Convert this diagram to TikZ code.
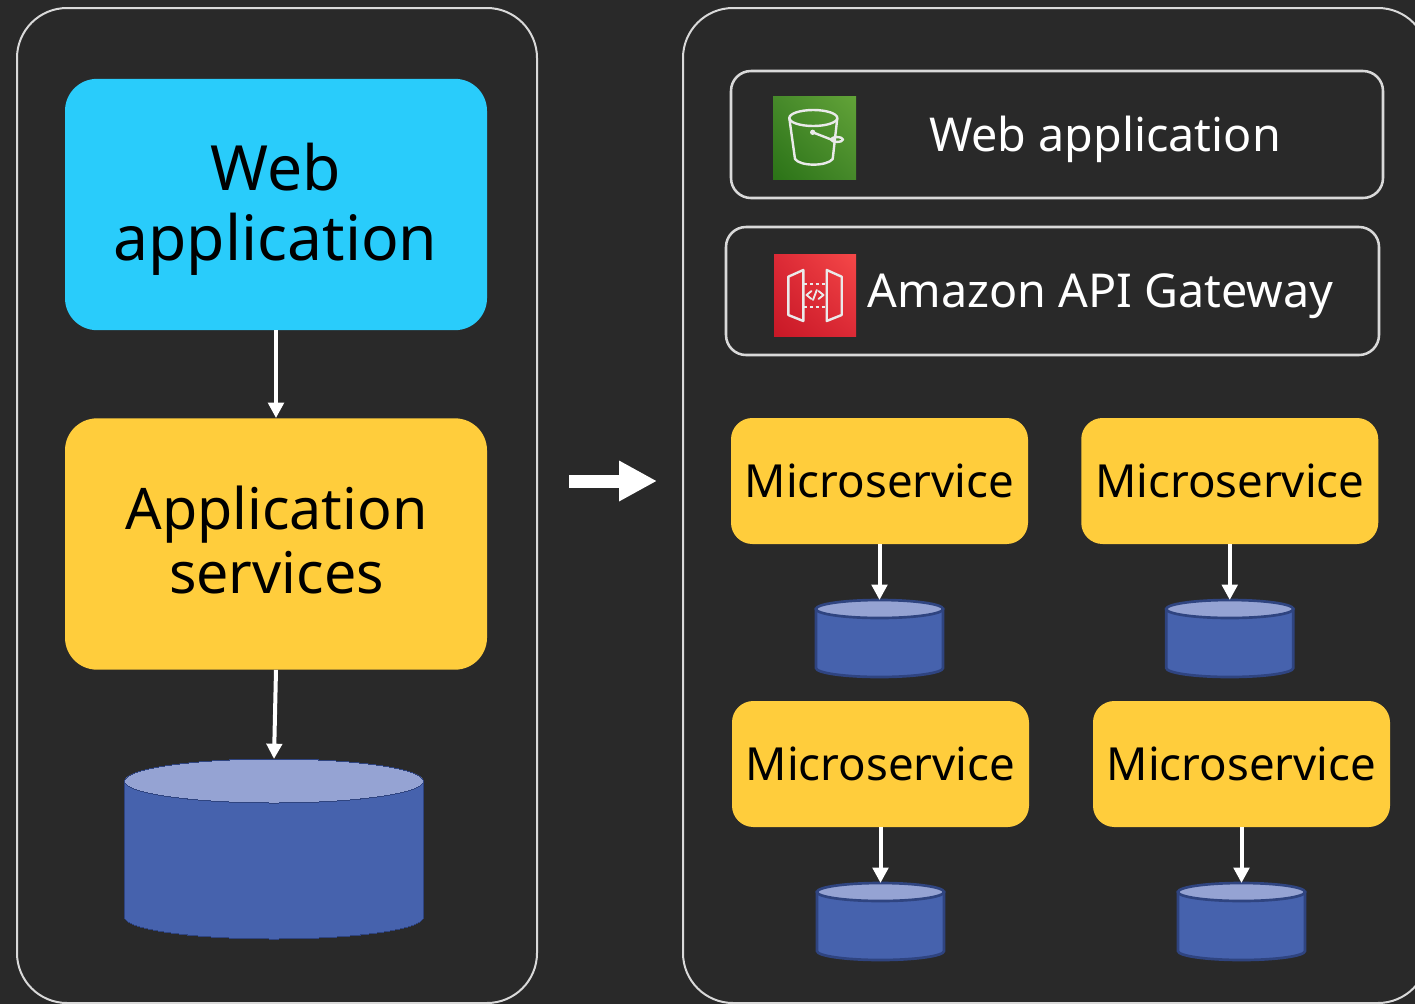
\documentclass[tikz,border=0pt]{standalone}
\usepackage{fontspec}
\setmainfont{Noto Sans}
\usetikzlibrary{arrows.meta,shadings}
\definecolor{bgc}{HTML}{292929}
\definecolor{linec}{HTML}{D9D9D9}
\definecolor{bluebox}{HTML}{29CCFB}
\definecolor{yellowbox}{HTML}{FFCD3C}
\definecolor{drumbody}{HTML}{4662AD}
\definecolor{drumtop}{HTML}{95A3D3}
\definecolor{drumedge}{HTML}{2F4480}
\definecolor{greenlo}{HTML}{2B7317}
\definecolor{greenmid}{HTML}{46892A}
\definecolor{greenhi}{HTML}{62A338}
\definecolor{redlo}{HTML}{C81826}
\definecolor{redmid}{HTML}{DC2A36}
\definecolor{redhi}{HTML}{F54848}
\definecolor{iconc}{HTML}{EAEAEA}
\tikzset{
  panel/.style={draw=linec,line width=1.5pt,rounded corners=37.5pt,inner sep=0pt},
  barbox/.style={draw=linec,line width=1.9pt,rounded corners=15pt,inner sep=0pt},
  bigbox/.style={fill=#1,rounded corners=24pt,inner sep=0pt,minimum width=316.5pt,minimum height=188.5pt},
  bigtext/.style={text=black,inner sep=0pt,align=center},
  msbox/.style={fill=yellowbox,rounded corners=16pt,inner sep=0pt,text=black,minimum width=222.75pt,minimum height=94.5pt,font=\fontsize{34.2}{40}\selectfont},
  bartext/.style={text=white,inner sep=0pt,font=\fontsize{35}{40}\selectfont},
  flow/.style={draw=white,line width=3pt,-{Triangle[length=11.5pt,width=11.5pt]}},
  bigflow/.style={draw=white,line width=9.75pt,-{Triangle[length=28.5pt,width=28.5pt]}},
  iconline/.style={draw=iconc,line width=1.8pt,line join=round,line cap=round},
  anchorbox/.style={inner sep=0pt,minimum width=#1*0.75pt,minimum height=1pt},
}
% name, centre x, top y, bottom y, half width, ellipse half height, edge width
\newcommand\drum[7]{%
  \path[draw=drumedge,fill=drumbody,line width=#7]
    (#2-#5,#3+#6) -- (#2-#5,#4-#6)
    arc[start angle=180,end angle=360,x radius=#5*0.75pt,y radius=#6*0.75pt]
    -- (#2+#5,#3+#6) -- cycle;
  \path[draw=drumedge,fill=drumtop,line width=#7]
    (#2,#3+#6) ellipse[x radius=#5*0.75pt,y radius=#6*0.75pt];
  \node[anchorbox=2*#5,anchor=north] (#1) at (#2,#3) {};
}
\begin{document}
\begin{tikzpicture}[x=0.75pt,y=-0.75pt]
\useasboundingbox (0,0) rectangle (1415,1004);
\clip (0,0) rectangle (1415,1004);
\fill[bgc] (0,0) rectangle (1415,1004);

% outer panels
\node[panel,minimum width=390pt,minimum height=746.25pt] (left) at (277,505.5) {};
\node[panel,minimum width=558.75pt,minimum height=746.25pt] (right) at (1055.5,505.5) {};

% left column
\node[bigbox=bluebox] (web) at (276,204.5) {};
\node[bigbox=yellowbox] (services) at (276,544) {};
\node[bigtext,font=\fontsize{46.8}{52.5}\selectfont] (webtext) at (275.5,209.5) {Web\\application};
\node[bigtext,font=\fontsize{43}{48}\selectfont] (servicestext) at (276.5,540) {Application\\services};
\drum{db}{274}{759}{939}{149.5}{22}{0pt}
\draw[flow] (web.south) -- (services.north);
\draw[flow] (services.south) -- (db.north);

% transition arrow
\coordinate (from) at (569,481);
\coordinate (to) at (657,481);
\draw[bigflow] (from) -- (to);

% right column bars
\node[barbox,minimum width=489pt,minimum height=95.25pt] (webbar) at (1057,134.5) {};
\node[barbox,minimum width=489.75pt,minimum height=96pt] (apibar) at (1052.5,291) {};
\node[bartext] (webtext2) at (1105,139) {Web application};
\node[bartext] (apitext) at (1100.5,296) {Amazon API Gateway};

% S3 icon
\shade[lower left=greenlo,upper right=greenhi,lower right=greenmid,upper left=greenmid]
  (773,179) rectangle (856,96);
\draw[iconline] (813.3,118) ellipse[x radius=18pt,y radius=6pt];
\draw[iconline] (789.3,118) -- (795,159) .. controls (800,166.5) and (827,166.5) .. (832.7,159) -- (837.3,118);
\draw[iconline] (812.7,132.3) -- (835,141);
\fill[iconc] (812.7,132.3) circle[radius=2pt];
\draw[iconline] (837,139.5) ellipse[x radius=4.5pt,y radius=1.8pt];

% API Gateway icon
\shade[lower left=redlo,upper right=redhi,lower right=redmid,upper left=redmid]
  (774,336) rectangle (856,254);
\draw[iconline] (788.3,276.7) -- (803.3,270) -- (803.3,321) -- (788.3,315) -- cycle;
\draw[iconline] (826.7,270) -- (841.7,276.7) -- (841.7,315) -- (826.7,321) -- cycle;
\draw[iconline,line width=1.5pt,dash pattern=on 2.2pt off 2.2pt,line cap=butt] (804,283.5) -- (826,283.5);
\draw[iconline,line width=1.5pt,dash pattern=on 2.2pt off 2.2pt,line cap=butt] (804,306.7) -- (826,306.7);
\draw[iconline,line width=1.4pt] (811.5,291) -- (806.5,295) -- (811.5,299);
\draw[iconline,line width=1.4pt] (818.5,291) -- (823.5,295) -- (818.5,299);
\draw[iconline,line width=1.4pt] (816.8,290) -- (813,300);

% microservices
\node[msbox] (ms1) at (879.5,481) {Microservice};
\node[msbox] (ms2) at (1229.75,481) {Microservice};
\node[msbox] (ms3) at (880.5,764) {Microservice};
\node[msbox] (ms4) at (1241.5,764) {Microservice};
\drum{db1}{879.5}{600}{677}{63.5}{9}{2pt}
\drum{db2}{1229.75}{600}{677}{63.5}{9}{2pt}
\drum{db3}{880.5}{883}{960}{63.5}{9}{2pt}
\drum{db4}{1241.5}{883}{960}{63.5}{9}{2pt}
\draw[flow] (ms1.south) -- (db1.north);
\draw[flow] (ms2.south) -- (db2.north);
\draw[flow] (ms3.south) -- (db3.north);
\draw[flow] (ms4.south) -- (db4.north);
\end{tikzpicture}
\end{document}
